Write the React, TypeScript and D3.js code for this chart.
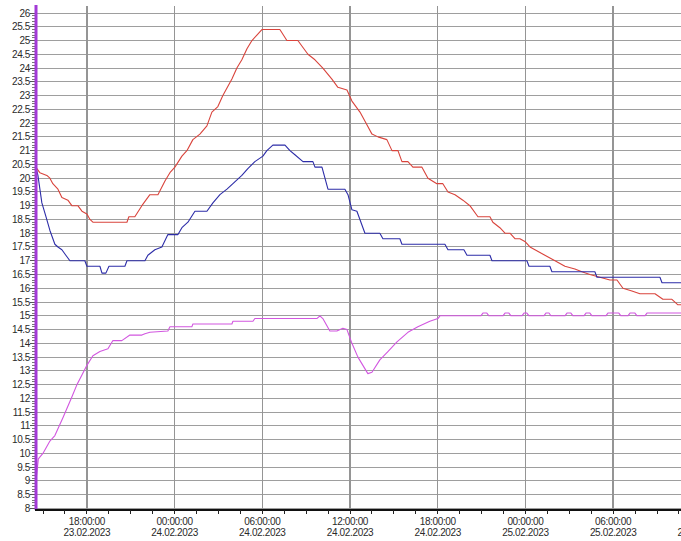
import React from "react";
import * as d3 from "d3";

// Time is given in hours after 23.02.2023 00:00 (UTC), values in °C.
const BASE_MS = Date.UTC(2023, 1, 23);
const X_START = 14.45;
const X_END = 58.64;
const Y_MIN = 8;
const Y_MAX = 26;

const majorHours = [18, 24, 30, 36, 42, 48, 54, 60];
const minorHours = d3.range(15, 60.01, 1.5);
const yTicks = d3.range(Y_MIN, Y_MAX + 0.001, 0.5);
const yMinorTicks = d3.range(Y_MIN, Y_MAX + 0.001, 0.1);

const sensor1: [number, number][] = [
  [14.51, 20.4], [14.78, 20.2], [15.26, 20.1], [15.47, 20.0], [15.67, 19.8], [16.02, 19.6],
  [16.29, 19.3], [16.7, 19.2], [16.97, 19.0], [17.38, 19.0], [17.66, 18.8], [18.0, 18.7],
  [18.21, 18.5], [18.41, 18.4], [20.74, 18.4], [20.87, 18.6], [21.28, 18.6], [21.76, 19.0],
  [22.31, 19.4], [22.86, 19.4], [23.34, 19.9], [23.68, 20.2], [24.02, 20.4], [24.5, 20.8],
  [24.84, 21.0], [25.25, 21.4], [25.73, 21.6], [26.21, 21.9], [26.55, 22.4], [26.96, 22.6],
  [27.3, 23.0], [27.92, 23.6], [28.26, 24.0], [28.6, 24.3], [28.95, 24.7], [29.29, 25.0],
  [29.63, 25.2], [29.97, 25.4], [31.2, 25.4], [31.68, 25.0], [32.43, 25.0], [33.12, 24.5],
  [33.6, 24.3], [34.14, 24.0], [34.76, 23.6], [35.17, 23.3], [35.79, 23.2], [36.13, 22.8],
  [36.68, 22.4], [37.09, 22.0], [37.5, 21.6], [37.91, 21.5], [38.52, 21.4], [38.87, 21.0],
  [39.28, 21.0], [39.55, 20.6], [39.96, 20.6], [40.3, 20.4], [40.92, 20.4], [41.33, 20.0],
  [41.94, 19.8], [42.35, 19.8], [42.7, 19.5], [43.18, 19.4], [43.72, 19.2], [44.2, 19.0],
  [44.75, 18.6], [45.57, 18.6], [45.77, 18.4], [46.25, 18.2], [46.6, 18.0], [46.94, 18.0],
  [47.28, 17.8], [47.62, 17.8], [47.96, 17.7], [48.31, 17.5], [48.65, 17.4], [49.33, 17.2],
  [50.02, 17.0], [50.7, 16.8], [51.38, 16.7], [51.86, 16.6], [52.41, 16.5], [53.09, 16.4],
  [53.78, 16.3], [54.26, 16.3], [54.67, 16.0], [55.28, 15.9], [55.83, 15.8], [56.86, 15.8],
  [57.4, 15.6], [58.02, 15.6], [58.43, 15.4], [59.25, 15.4],
];

const sensor2: [number, number][] = [
  [14.51, 20.4], [14.65, 20.1], [14.92, 19.1], [15.2, 18.6], [15.47, 18.1], [15.81, 17.6],
  [16.02, 17.5], [16.29, 17.4], [16.56, 17.2], [16.84, 17.0], [17.86, 17.0], [18.0, 16.8],
  [18.89, 16.8], [19.03, 16.55], [19.3, 16.55], [19.51, 16.8], [20.6, 16.8], [20.74, 17.0],
  [21.97, 17.0], [22.17, 17.2], [22.65, 17.4], [23.13, 17.5], [23.54, 17.95], [24.23, 17.95],
  [24.5, 18.2], [24.91, 18.4], [25.39, 18.8], [26.21, 18.8], [26.62, 19.1], [27.1, 19.4],
  [27.58, 19.6], [27.99, 19.8], [28.6, 20.1], [29.01, 20.35], [29.49, 20.6], [30.04, 20.8],
  [30.31, 21.0], [30.72, 21.2], [31.55, 21.2], [31.89, 21.0], [32.23, 20.85], [32.78, 20.6],
  [33.46, 20.6], [33.6, 20.4], [34.08, 20.4], [34.49, 19.6], [35.65, 19.6], [35.86, 19.4],
  [36.13, 18.85], [36.47, 18.8], [37.02, 18.0], [38.04, 18.0], [38.25, 17.8], [39.41, 17.8],
  [39.55, 17.6], [42.49, 17.6], [42.7, 17.4], [43.79, 17.4], [44.0, 17.2], [45.57, 17.2],
  [45.71, 17.0], [48.1, 17.0], [48.24, 16.8], [49.67, 16.8], [49.81, 16.6], [52.75, 16.6],
  [52.89, 16.4], [57.2, 16.4], [57.34, 16.2], [59.25, 16.2],
];

const sensor3: [number, number][] = [
  [14.51, 9.0], [14.58, 9.3], [14.68, 9.8], [14.99, 10.0], [15.47, 10.45], [15.81, 10.65],
  [16.36, 11.3], [16.97, 12.05], [17.32, 12.5], [17.66, 12.85], [18.0, 13.2], [18.41, 13.55],
  [18.89, 13.7], [19.44, 13.8], [19.78, 14.1], [20.39, 14.1], [20.94, 14.3], [21.76, 14.3],
  [21.97, 14.35], [22.31, 14.4], [23.54, 14.45], [23.68, 14.6], [25.18, 14.6], [25.25, 14.7],
  [27.92, 14.7], [27.99, 14.8], [29.36, 14.8], [29.49, 14.9], [33.73, 14.9], [33.94, 15.0],
  [34.14, 14.9], [34.62, 14.45], [35.1, 14.45], [35.51, 14.55], [35.79, 14.5], [36.13, 14.0],
  [36.54, 13.5], [37.22, 12.9], [37.5, 12.95], [38.04, 13.4], [38.59, 13.7], [39.21, 14.05],
  [39.96, 14.4], [40.64, 14.6], [41.46, 14.8], [42.01, 14.9], [42.15, 15.0], [44.95, 15.0],
  [45.09, 15.1], [45.36, 15.1], [45.5, 15.0], [46.46, 15.0], [46.6, 15.1], [46.87, 15.1],
  [47.01, 15.0], [47.76, 15.0], [47.9, 15.1], [48.1, 15.1], [48.24, 15.0], [49.26, 15.0],
  [49.4, 15.1], [49.61, 15.1], [49.74, 15.0], [50.7, 15.0], [50.84, 15.1], [51.11, 15.1],
  [51.25, 15.0], [52.0, 15.0], [52.14, 15.1], [52.41, 15.1], [52.55, 15.0], [53.5, 15.0],
  [53.64, 15.1], [54.39, 15.1], [54.53, 15.0], [55.01, 15.0], [55.15, 15.1], [55.49, 15.1],
  [55.63, 15.0], [56.17, 15.0], [56.31, 15.1], [59.25, 15.1],
];

const seriesColors = ["#d9443c", "#2d2da8", "#d257e0"];

const WIDTH = 681;
const HEIGHT = 541;
const PLOT_LEFT = 35;
const PLOT_RIGHT = 681;
const PLOT_TOP = 13;
const PLOT_BOTTOM = 508.5;
const AXIS_Y = 510;

const timeFmt = d3.utcFormat("%H:%M:%S");
const dateFmt = d3.utcFormat("%d.%m.%Y");
const toDate = (h: number) => new Date(BASE_MS + h * 3600e3);
const yFmt = d3.format("~g");

export default function App() {
  const x = d3.scaleLinear().domain([X_START, X_END]).range([PLOT_LEFT, PLOT_RIGHT]);
  const y = d3.scaleLinear().domain([Y_MIN, Y_MAX]).range([PLOT_BOTTOM, PLOT_TOP]);
  const line = d3
    .line<[number, number]>()
    .x((d) => x(d[0]))
    .y((d) => y(d[1]));

  const font = "'Liberation Sans', Arial, sans-serif";

  return (
    <svg
      width={WIDTH}
      height={HEIGHT}
      style={{ position: "absolute", left: 0, top: 0, background: "#fff" }}
      fontFamily={font}
    >
      <defs>
        <clipPath id="plotArea">
          <rect x={PLOT_LEFT} y={0} width={PLOT_RIGHT - PLOT_LEFT} height={AXIS_Y} />
        </clipPath>
      </defs>
      <rect width={WIDTH} height={HEIGHT} fill="#fff" />

      {/* horizontal grid */}
      <g shapeRendering="crispEdges">
        {yTicks.map((v) => (
          <line key={v} x1={PLOT_LEFT} x2={PLOT_RIGHT} y1={y(v)} y2={y(v)} stroke="#9e9e9e" strokeWidth={1} />
        ))}
      </g>

      {/* vertical grid */}
      <g shapeRendering="crispEdges">
        {majorHours.map((h) => (
          <line key={h} x1={x(h)} x2={x(h)} y1={6} y2={AXIS_Y} stroke="#959595" strokeWidth={1.5} />
        ))}
      </g>

      {/* series */}
      <g clipPath="url(#plotArea)" fill="none" strokeWidth={1.1} strokeLinejoin="round">
        <path d={line(sensor1) ?? ""} stroke={seriesColors[0]} />
        <path d={line(sensor2) ?? ""} stroke={seriesColors[1]} />
        <path d={line(sensor3) ?? ""} stroke={seriesColors[2]} />
      </g>

      {/* y axis */}
      <g shapeRendering="crispEdges">
        {yMinorTicks.map((v, i) => (
          <line key={i} x1={32} x2={35} y1={y(v)} y2={y(v)} stroke="#777" strokeWidth={1} />
        ))}
        {yTicks.map((v) => (
          <line key={v} x1={30} x2={35} y1={y(v)} y2={y(v)} stroke="#555" strokeWidth={1} />
        ))}
      </g>
      <line x1={36} x2={36} y1={5} y2={AXIS_Y} stroke="#a23ad6" strokeWidth={3} />
      <g fontSize={10} fill="#2a2a2a" textAnchor="end" letterSpacing={-0.35}>
        {yTicks.map((v) => (
          <text key={v} x={30} y={y(v)} dy="0.35em">
            {yFmt(v)}
          </text>
        ))}
      </g>

      {/* x axis */}
      <line x1={PLOT_LEFT} x2={PLOT_RIGHT} y1={AXIS_Y} y2={AXIS_Y} stroke="#111" strokeWidth={2} />
      <g shapeRendering="crispEdges">
        {minorHours.map((h) => (
          <line key={h} x1={x(h)} x2={x(h)} y1={AXIS_Y} y2={AXIS_Y + 4} stroke="#222" strokeWidth={1} />
        ))}
      </g>
      <g fontSize={10} fill="#2a2a2a" textAnchor="middle" letterSpacing={-0.35}>
        {majorHours.map((h) => (
          <g key={h}>
            <text x={x(h)} y={525}>
              {timeFmt(toDate(h))}
            </text>
            <text x={x(h)} y={536}>
              {dateFmt(toDate(h))}
            </text>
          </g>
        ))}
      </g>
    </svg>
  );
}
